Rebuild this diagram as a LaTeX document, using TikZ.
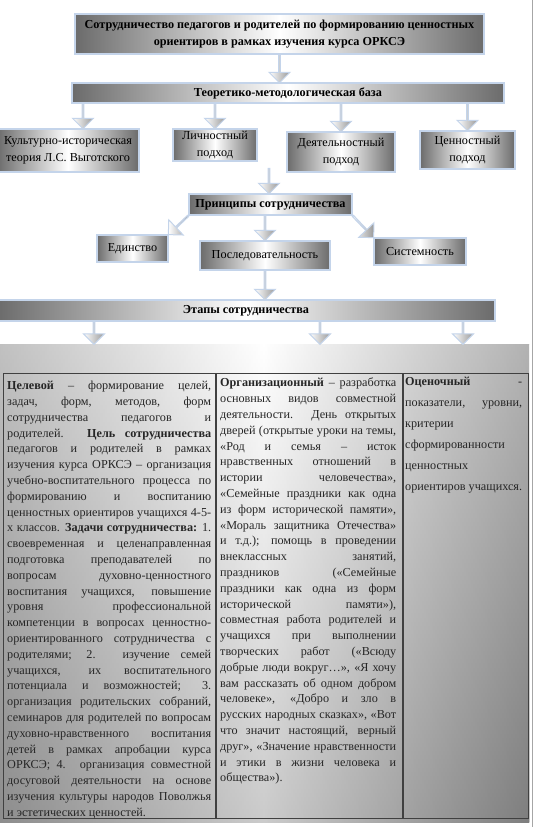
\documentclass[tikz,border=0pt]{standalone}
\usepackage{fontspec}
\setmainfont{Liberation Serif}
\usetikzlibrary{positioning,calc,shapes.arrows}
\definecolor{rim}{HTML}{C4D4EA}
\newcommand\barrow[2]{\path let \p1=($(#2)-(#1)$), \n1={veclen(\x1,\y1)}, \n2={atan2(\y1,\x1)} in ($(#1)!.5!(#2)$) node[arr, minimum height=\n1, rotate=\n2] {};}
\newcommand\jl[1]{\makebox[\linewidth][s]{\spaceskip=0pt\xspaceskip=0pt #1}\\}

\begin{document}
\begin{tikzpicture}[x=1pt,y=-1pt]
  \tikzstyle{box} = [draw=rim, line width=1.3pt, left color=black!58, right color=black!58, middle color=white, inner sep=0pt, align=center, font=\fontsize{12.2}{16.5}\selectfont]
  \tikzstyle{head} = [box, font=\fontsize{12.2}{17}\selectfont\bfseries]
  \tikzstyle{arr} = [single arrow, draw=rim, line width=1pt, left color=white, right color=black!40, minimum width=21pt, single arrow head extend=6pt, inner sep=0pt]
  \tikzstyle{cell} = [draw=black!75, line width=0.8pt, minimum height=445pt, inner sep=0pt, anchor=north west]
  \tikzstyle{txt} = [inner sep=0pt, anchor=north west, align=justify, text=black!85, font=\fontsize{12.2}{15.8}\selectfont]
  \fill[white] (0,0) rectangle (534,827);
  \useasboundingbox (0,0) rectangle (534,827);
  \draw[black!35, line width=1pt] (532.5,0) -- (532.5,827);

  \node[head, minimum width=409pt, minimum height=40pt] (title) at (279.5,34) {Сотрудничество педагогов и родителей по формированию ценностных\\ориентиров в рамках изучения курса ОРКСЭ};
  \node[head, minimum width=432pt, minimum height=20pt] (base) at (288,93) {Теоретико-методологическая база};
  \node[box, minimum width=142pt, minimum height=43pt] (b1) at (68,150.5) {Культурно-историческая\\теория Л.С. Выготского};
  \node[box, minimum width=84pt, minimum height=32pt] (b2) at (215,145) {Личностный\\подход};
  \node[box, minimum width=108pt, minimum height=40pt] (b3) at (341,152) {Деятельностный\\подход};
  \node[box, minimum width=95pt, minimum height=38pt] (b4) at (467.5,150) {Ценностный\\подход};
  \node[head, minimum width=163pt, minimum height=21pt] (prin) at (270.5,204.5) {Принципы сотрудничества};
  \node[box, minimum width=71pt, minimum height=27pt] (edin) at (132.5,248.5) {Единство};
  \node[box, minimum width=130pt, minimum height=29pt] (posl) at (265,255.5) {Последовательность};
  \node[box, minimum width=92pt, minimum height=27pt] (sist) at (420,251.5) {Системность};
  \node[head, minimum width=498pt, minimum height=21pt] (stages) at (246,310.5) {Этапы сотрудничества};

  \node[minimum width=532pt, minimum height=478pt, inner sep=0pt, left color=black!45, right color=black!55, middle color=white, anchor=north west] (panel) at (-3,344) {};
  \path[top color=white, bottom color=black!45, opacity=.45] (panel.south west) rectangle (panel.north east);

  \coordinate (t1) at ([xshift=15pt]b1.north);
  \coordinate (k) at (269,168);
  \coordinate (s1) at (94,344);
  \coordinate (s2) at (320,344);
  \coordinate (s3) at (463,344);

  \barrow{title.south}{title.south |- base.north}
  \barrow{base.south -| t1}{t1}
  \barrow{base.south -| b2.north}{b2.north}
  \barrow{base.south -| b3.north}{b3.north}
  \barrow{base.south -| b4.north}{b4.north}
  \barrow{k}{prin.north -| k}
  \barrow{prin.south west}{edin.north east}
  \barrow{prin.south -| posl.north}{posl.north}
  \barrow{prin.south east}{sist.north west}
  \barrow{posl.south}{posl.south |- stages.north}
  \barrow{stages.south -| s1}{s1}
  \barrow{stages.south -| s2}{s2}
  \barrow{stages.south -| s3}{s3}

  \node[cell, minimum width=212pt] (c1) at (3,373) {};
  \node[cell, minimum width=186pt] (c2) at (c1.north east) {};
  \node[cell, minimum width=125pt] (c3) at (c2.north east) {};

  \node[txt, text width=204pt] (goal) at (7,381) {%
\jl{\textbf{Целевой} – формирование целей,}
\jl{задач, форм, методов, форм}
\jl{сотрудничества педагогов и}
\jl{родителей. \textbf{Цель сотрудничества}}
\jl{педагогов и родителей в рамках}
\jl{изучения курса ОРКСЭ – организация}
\jl{учебно-воспитательного процесса по}
\jl{формированию и воспитанию}
\jl{ценностных ориентиров учащихся 4-5-}
\jl{х классов. \textbf{Задачи сотрудничества:} 1.}
\jl{своевременная и целенаправленная}
\jl{подготовка преподавателей по}
\jl{вопросам духовно-ценностного}
\jl{воспитания учащихся, повышение}
\jl{уровня профессиональной}
\jl{компетенции в вопросах ценностно-}
\jl{ориентированного сотрудничества с}
\jl{родителями; 2. изучение семей}
\jl{учащихся, их воспитательного}
\jl{потенциала и возможностей; 3.}
\jl{организация родительских собраний,}
\jl{семинаров для родителей по вопросам}
\jl{духовно-нравственного воспитания}
\jl{детей в рамках апробации курса}
\jl{ОРКСЭ; 4. организация совместной}
\jl{досуговой деятельности на основе}
\jl{изучения культуры народов Поволжья}
и эстетических ценностей.};
  \node[txt, text width=176pt] (org) at (220,378) {%
\jl{\textbf{Организационный} – разработка}
\jl{основных видов совместной}
\jl{деятельности. День открытых}
\jl{дверей (открытые уроки на темы,}
\jl{«Род и семья – исток}
\jl{нравственных отношений в}
\jl{истории человечества»,}
\jl{«Семейные праздники как одна}
\jl{из форм исторической памяти»,}
\jl{«Мораль защитника Отечества»}
\jl{и т.д.); помощь в проведении}
\jl{внеклассных занятий,}
\jl{праздников («Семейные}
\jl{праздники как одна из форм}
\jl{исторической памяти»),}
\jl{совместная работа родителей и}
\jl{учащихся при выполнении}
\jl{творческих работ («Всюду}
\jl{добрые люди вокруг…», «Я хочу}
\jl{вам рассказать об одном добром}
\jl{человеке», «Добро и зло в}
\jl{русских народных сказках», «Вот}
\jl{что значит настоящий, верный}
\jl{друг», «Значение нравственности}
\jl{и этики в жизни человека и}
общества»).};
  \node[txt, text width=117pt, font=\fontsize{12.2}{21}\selectfont] (eval) at (405,377) {%
\jl{\textbf{Оценочный}\hfill-}
\jl{показатели, уровни,}
критерии\\
сформированности\\
ценностных\\
ориентиров учащихся.};
\end{tikzpicture}
\end{document}
